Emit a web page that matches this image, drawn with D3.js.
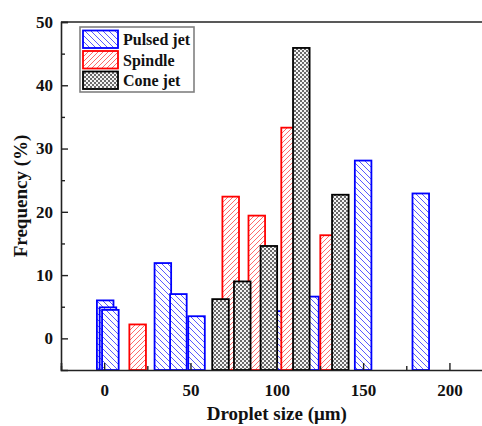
<!DOCTYPE html>
<html>
<head>
<meta charset="utf-8">
<script src="https://cdn.jsdelivr.net/npm/d3@7/dist/d3.min.js"></script>
<style>
  html, body { margin: 0; padding: 0; background: #fff; }
  svg { display: block; }
  text { font-family: "Liberation Serif", "Times New Roman", serif; font-weight: bold; fill: #111; }
</style>
</head>
<body>
<svg id="chart" width="482" height="426"></svg>
<script>
// Droplet size distributions for the three spraying modes (bar centre in µm, frequency in %)
const pulsedX = [0.6, 2.2, 3.6, 34, 43, 53.5, 100, 119.5, 150, 183.4];
const pulsedY = [6.0, 4.9, 4.5, 11.9, 7.0, 3.5, 4.3, 6.6, 28.1, 22.9];
const spindleX = [19.4, 73.3, 88.4, 107.4, 130];
const spindleY = [2.2, 22.4, 19.4, 33.3, 16.3];
const coneX = [67.4, 80, 95.4, 114.2, 136.8];
const coneY = [6.2, 9.0, 14.6, 45.9, 22.7];

const seriesNames = ["Pulsed jet", "Spindle", "Cone jet"];
const xTicks = [0, 50, 100, 150, 200];
const yTicks = [0, 10, 20, 30, 40, 50];
const barWidth = 9.6; // µm

const svg = d3.select("#chart");
const plotL = 61, plotR = 492.6, plotT = 22, plotB = 370;

const x = d3.scaleLinear().domain([-25, 225]).range([plotL, plotR]);
const y = d3.scaleLinear().domain([-5, 50]).range([plotB, plotT]);

// Fill patterns
const defs = svg.append("defs");
const pb = defs.append("pattern").attr("id", "hatchBlue").attr("patternUnits", "userSpaceOnUse")
  .attr("width", 6).attr("height", 6);
pb.append("rect").attr("width", 6).attr("height", 6).attr("fill", "#fff");
pb.append("path").attr("d", "M-1,-1 L7,7 M-1,5 L1,7 M5,-1 L7,1")
  .attr("stroke", "#5a5aff").attr("stroke-width", 1);

const pr = defs.append("pattern").attr("id", "hatchRed").attr("patternUnits", "userSpaceOnUse")
  .attr("width", 5).attr("height", 5);
pr.append("rect").attr("width", 5).attr("height", 5).attr("fill", "#fff");
pr.append("path").attr("d", "M-1,6 L6,-1 M-1,1 L1,-1 M4,6 L6,4")
  .attr("stroke", "#ff6a6a").attr("stroke-width", 1);

const pc = defs.append("pattern").attr("id", "checkBlack").attr("patternUnits", "userSpaceOnUse")
  .attr("width", 4).attr("height", 4);
pc.append("rect").attr("width", 4).attr("height", 4).attr("fill", "#f4f4f4");
pc.append("rect").attr("x", 0).attr("y", 0).attr("width", 2).attr("height", 2).attr("fill", "#6a6a6a");
pc.append("rect").attr("x", 2).attr("y", 2).attr("width", 2).attr("height", 2).attr("fill", "#6a6a6a");

const series = [
  { xs: pulsedX, ys: pulsedY, stroke: "#0000ff", fill: "url(#hatchBlue)" },
  { xs: spindleX, ys: spindleY, stroke: "#ff0000", fill: "url(#hatchRed)" },
  { xs: coneX, ys: coneY, stroke: "#000", fill: "url(#checkBlack)" }
];

const plot = svg.append("g");
series.forEach(s => {
  const rows = s.xs.map((c, i) => ({ c, v: s.ys[i] }));
  plot.append("g").selectAll("rect").data(rows).join("rect")
    .attr("x", d => x(d.c - barWidth / 2))
    .attr("width", d => x(d.c + barWidth / 2) - x(d.c - barWidth / 2))
    .attr("y", d => y(d.v))
    .attr("height", d => y(-5) - y(d.v))
    .attr("fill", s.fill)
    .attr("stroke", s.stroke)
    .attr("stroke-width", 1.8);
});

// Top frame line
svg.append("line").attr("x1", plotL).attr("x2", 482).attr("y1", plotT).attr("y2", plotT)
  .attr("stroke", "#222").attr("stroke-width", 1.6);

// Axes with inward ticks
const xMinor = d3.range(-25, 226, 25).filter(v => v % 50 !== 0);
const yMinor = d3.range(-5, 51, 5).filter(v => v % 10 !== 0 && v > -5);

const gx = svg.append("g").attr("transform", `translate(0,${plotB})`);
gx.call(d3.axisBottom(x).tickValues(xMinor).tickSize(-4).tickFormat(""));
gx.select(".domain").remove();
gx.selectAll(".tick line").attr("stroke", "#222").attr("stroke-width", 1.4);
const gx2 = svg.append("g").attr("transform", `translate(0,${plotB})`);
gx2.call(d3.axisBottom(x).tickValues(xTicks).tickSize(-7).tickPadding(14).tickFormat(d3.format("d")));
gx2.select(".domain").attr("stroke", "#222").attr("stroke-width", 1.6);
gx2.selectAll(".tick line").attr("stroke", "#222").attr("stroke-width", 1.4);
gx2.selectAll(".tick text").attr("font-size", 17).attr("font-family", "Liberation Serif").attr("font-weight", "bold").attr("fill", "#111");

const gy = svg.append("g").attr("transform", `translate(${plotL},0)`);
gy.call(d3.axisLeft(y).tickValues(yMinor).tickSize(-4).tickFormat(""));
gy.select(".domain").remove();
gy.selectAll(".tick line").attr("stroke", "#222").attr("stroke-width", 1.4);
const gy2 = svg.append("g").attr("transform", `translate(${plotL},0)`);
gy2.call(d3.axisLeft(y).tickValues(yTicks).tickSize(-7).tickPadding(8).tickFormat(d3.format("d")));
gy2.select(".domain").attr("stroke", "#222").attr("stroke-width", 1.6);
gy2.selectAll(".tick line").attr("stroke", "#222").attr("stroke-width", 1.4);
gy2.selectAll(".tick text").attr("font-size", 17).attr("font-family", "Liberation Serif").attr("font-weight", "bold").attr("fill", "#111");

// Axis titles
svg.append("text").attr("x", (plotL + plotR) / 2).attr("y", 420)
  .attr("text-anchor", "middle").attr("font-size", 19).text("Droplet size (μm)");
svg.append("text").attr("transform", `translate(27,${(plotT + plotB) / 2}) rotate(-90)`)
  .attr("text-anchor", "middle").attr("font-size", 19).text("Frequency (%)");

// Legend
const lg = svg.append("g");
lg.append("rect").attr("x", 80).attr("y", 27).attr("width", 114).attr("height", 65)
  .attr("fill", "#fff").attr("stroke", "#808080").attr("stroke-width", 1.6);
const legendRows = [0, 1, 2];
lg.selectAll("rect.sw").data(legendRows).join("rect").attr("class", "sw")
  .attr("x", 83).attr("width", 35)
  .attr("y", i => 30.5 + i * 20.5).attr("height", 17.5)
  .attr("fill", i => series[i].fill).attr("stroke", i => series[i].stroke).attr("stroke-width", 1.8);
lg.selectAll("text").data(legendRows).join("text")
  .attr("x", 123).attr("y", i => 45 + i * 20.5)
  .attr("font-size", 16).text(i => seriesNames[i]);
</script>
</body>
</html>
